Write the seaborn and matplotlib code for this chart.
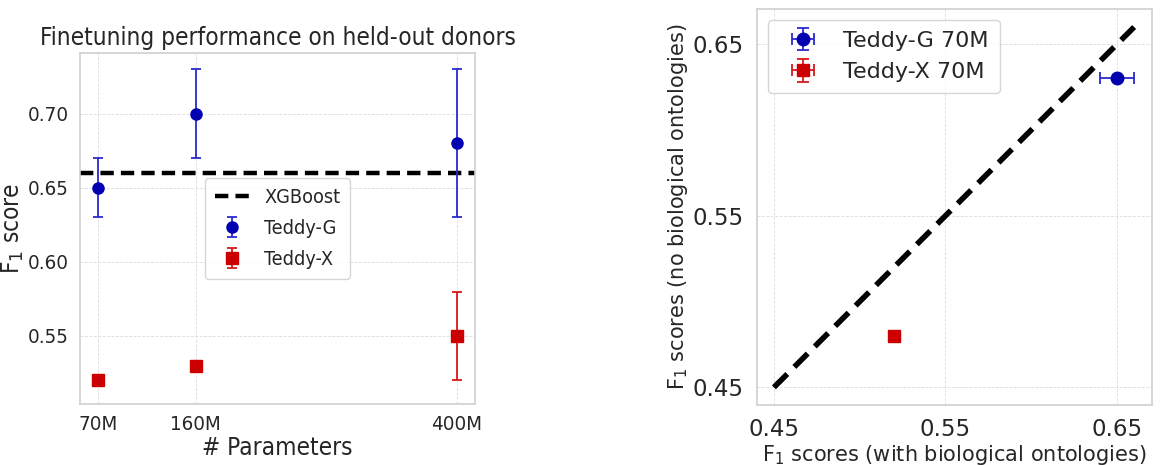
import matplotlib
matplotlib.use("Agg")
import matplotlib.pyplot as plt
from matplotlib import font_manager as fm
import seaborn as sns

# left panel: finetuning on held-out donors
params = [70, 160, 400]
param_labels = ["70M", "160M", "400M"]
teddy_g = [0.65, 0.70, 0.68]
teddy_g_err = [0.02, 0.03, 0.05]
teddy_x = [0.52, 0.53, 0.55]
teddy_x_err = [0.003, 0.0, 0.03]
xgboost = 0.66

# right panel: with vs without biological ontologies (70M models)
with_onto = [0.65, 0.52]
no_onto = [0.63, 0.48]
with_onto_err = [0.01, 0.0]
no_onto_err = [0.0, 0.0]
scatter_labels = ["Teddy-G 70M", "Teddy-X 70M"]

BLUE = "#0000b0"
BLUE_ERR = "#2a2ad0"
RED = "#cc0000"
RED_ERR = "#d81818"

sns.set_theme(style="whitegrid")
plt.rcParams["font.family"] = ["DejaVu Sans"]
plt.rcParams["grid.linestyle"] = "--"
plt.rcParams["grid.linewidth"] = 0.6
plt.rcParams["grid.color"] = "#dddddd"

# left panel text is narrower in the reference
NARROW = dict(family="DejaVu Sans", stretch="condensed")
k = 0.92

fig = plt.figure(figsize=(11.64, 4.65), dpi=100)
ax1 = fig.add_axes([0.0687, 0.131, 0.3393, 0.755])
ax2 = fig.add_axes([0.650, 0.129, 0.3397, 0.852])

# ---- left
ax1.axhline(xgboost, color="black", lw=3.2, ls=(0, (3, 1.6)), label="XGBoost", zorder=2)
ax1.errorbar(params, teddy_g, yerr=teddy_g_err, fmt="o", color=BLUE, ecolor=BLUE_ERR,
             ms=8, elinewidth=1.3, capsize=3.5, capthick=1.3, label="Teddy-G", zorder=3)
ax1.errorbar(params, teddy_x, yerr=teddy_x_err, fmt="s", color=RED, ecolor=RED_ERR,
             ms=8, elinewidth=1.3, capsize=3.5, capthick=1.3, label="Teddy-X", zorder=3)
ax1.set_xlim(53.5, 416.5)
ax1.set_ylim(0.504, 0.741)
ax1.set_xticks(params)
ax1.set_xticklabels(param_labels)
ax1.set_yticks([0.55, 0.60, 0.65, 0.70])
ax1.set_yticklabels(["0.55", "0.60", "0.65", "0.70"])
ax1.tick_params(axis="y", length=0, pad=8)
ax1.tick_params(axis="x", length=0, pad=8)
for lab in ax1.get_xticklabels() + ax1.get_yticklabels():
    lab.set(**NARROW)
    lab.set_fontsize(16.5 * 0.89)
ax1.set_title("Finetuning performance on held-out donors", fontsize=19 * k, pad=6, **NARROW)
ax1.set_xlabel("# Parameters", fontsize=19 * k, labelpad=1, **NARROW)
ax1.set_ylabel("F$_1$ score", fontsize=19 * k, labelpad=1, **NARROW)
leg1 = ax1.legend(loc="center", prop=fm.FontProperties(size=15.5 * k, **NARROW),
                  handlelength=1.8, borderpad=0.5, labelspacing=0.6, handletextpad=0.7)

# ---- right
ax2.plot([0.45, 0.66], [0.45, 0.66], color="black", lw=4, ls=(0, (3.4, 1.8)), zorder=2)
markers = ["o", "s"]
colors = [BLUE, RED]
ecolors = [BLUE_ERR, RED_ERR]
for i in range(len(with_onto)):
    ax2.errorbar([with_onto[i]], [no_onto[i]], xerr=[with_onto_err[i]], yerr=[no_onto_err[i]],
                 fmt=markers[i], color=colors[i], ecolor=ecolors[i], ms=9,
                 elinewidth=1.3, capsize=4, capthick=1.3, label=scatter_labels[i], zorder=3)
ax2.set_xlim(0.4399, 0.6704)
ax2.set_ylim(0.4397, 0.6706)
ax2.set_xticks([0.45, 0.55, 0.65])
ax2.set_yticks([0.45, 0.55, 0.65])
ax2.set_xticklabels(["0.45", "0.55", "0.65"])
ax2.set_yticklabels(["0.45", "0.55", "0.65"])
ax2.tick_params(labelsize=16.5)
ax2.set_xlabel("F$_1$ scores (with biological ontologies)", fontsize=15, labelpad=1)
ax2.set_ylabel("F$_1$ scores (no biological ontologies)", fontsize=15, labelpad=2)
ax2.legend(loc="upper left", fontsize=16, handlelength=2.2, borderpad=0.5,
           labelspacing=0.5, handletextpad=0.7)

for ax in (ax1, ax2):
    for s in ax.spines.values():
        s.set_color("#d0d0d0")
        s.set_linewidth(1.2)

fig.savefig("out.png", dpi=100)
